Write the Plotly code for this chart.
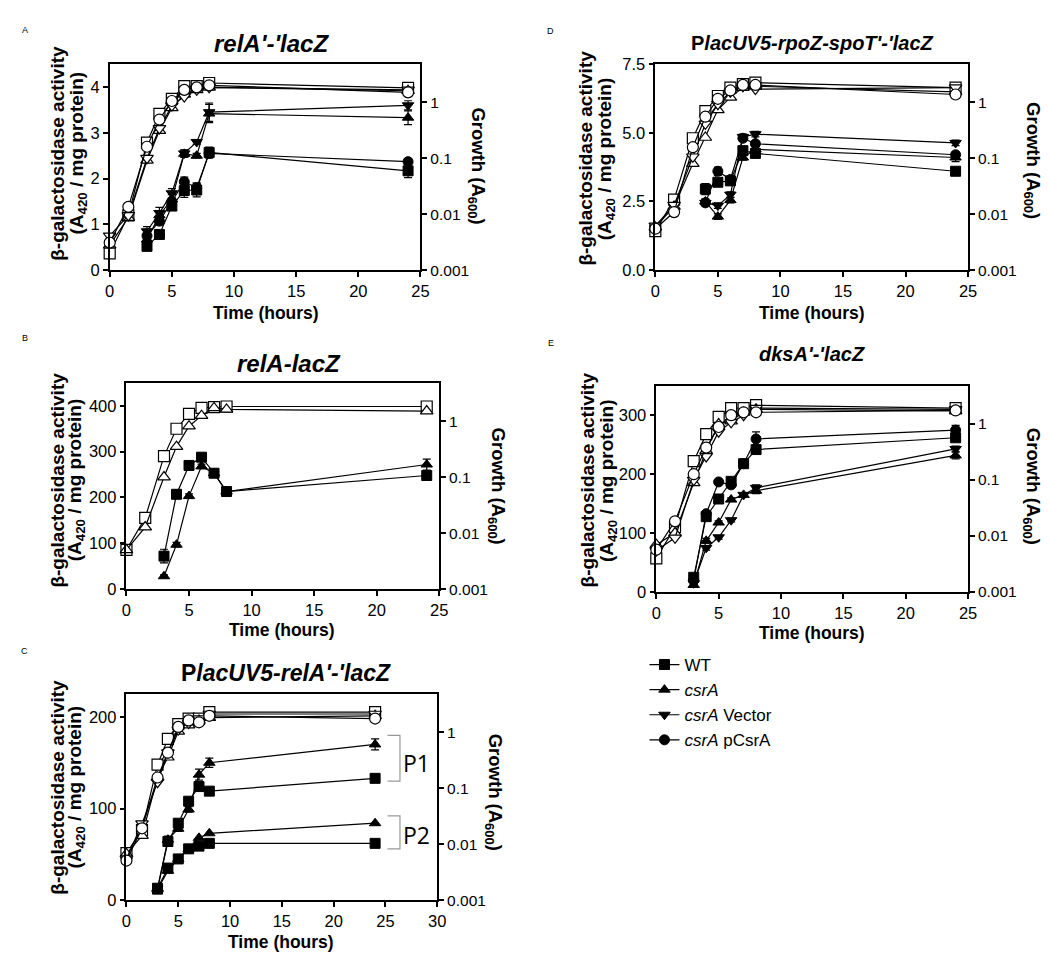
import plotly.graph_objects as go

W, H = 1050, 961

# ---------------- data ----------------
t_full = [0, 1.5, 3, 4, 5, 6, 7, 8, 24]
t_late = [3, 4, 5, 6, 7, 8, 24]
t_D = [4, 5, 6, 7, 8, 24]

# Panel A  relA'-'lacZ
A_gal_WT = [0.52, 0.78, 1.40, 1.74, 1.75, 2.57, 2.17]
A_gal_csrA = [0.67, 1.20, 1.55, 2.54, 2.50, 3.42, 3.33]
A_gal_vec = [0.85, 1.25, 1.68, 2.55, 2.80, 3.45, 3.60]
A_gal_pC = [0.75, 1.07, 1.50, 1.93, 1.80, 2.55, 2.37]
A_err_WT = [0.05, 0.05, 0.08, 0.15, 0.15, 0.12, 0.15]
A_err_csrA = [0.10, 0.10, 0.10, 0.08, 0.05, 0.20, 0.15]
A_err_vec = [0.10, 0.12, 0.10, 0.08, 0.05, 0.20, 0.10]
A_err_pC = [0.05, 0.08, 0.05, 0.10, 0.10, 0.10, 0.05]
A_gr_WT = [0.0020, 0.0095, 0.19, 0.62, 1.15, 1.94, 1.94, 2.2, 1.8]
A_gr_csrA = [0.0028, 0.0087, 0.091, 0.31, 0.79, 1.38, 1.66, 1.84, 1.6]
A_gr_vec = [0.0041, 0.0095, 0.10, 0.34, 0.87, 1.26, 1.66, 1.84, 1.66]
A_gr_pC = [0.0031, 0.0135, 0.16, 0.49, 1.05, 1.66, 1.84, 2.0, 1.5]

# Panel B  relA-lacZ
B_gal_WT = [72, 207, 270, 288, 253, 213, 248]
B_gal_csrA = [28, 97, 203, 268, 253, 213, 272]
B_err_WT = [15, 5, 5, 5, 5, 5, 8]
B_err_csrA = [3, 5, 5, 5, 5, 5, 12]
B_gr_WT = [0.0050, 0.0187, 0.237, 0.73, 1.35, 1.72, 1.78, 1.82, 1.82]
B_gr_csrA = [0.0050, 0.0128, 0.10, 0.35, 0.81, 1.25, 1.72, 1.62, 1.51]

# Panel C  PlacUV5-relA'-'lacZ
C_P1_WT = [12, 64, 84, 108, 124, 119, 133]
C_P1_csrA = [13, 66, 78, 99, 137, 150, 170]
C_P2_WT = [13, 35, 45, 56, 59, 62, 62]
C_P2_csrA = [12, 32, 45, 56, 68, 73, 84]
C_err_P1_WT = [1, 3, 3, 2, 2, 2, 2]
C_err_P1_csrA = [1, 4, 3, 3, 6, 5, 6]
C_gr_WT = [0.0069, 0.0178, 0.263, 0.76, 1.39, 1.75, 1.75, 2.28, 2.28]
C_gr_csrA = [0.0067, 0.0142, 0.155, 0.356, 1.03, 1.34, 1.62, 1.82, 1.96]
C_gr_vec = [0.0055, 0.0232, 0.128, 0.43, 1.11, 1.45, 1.75, 2.11, 2.11]
C_gr_pC = [0.0051, 0.0192, 0.155, 0.43, 1.24, 1.62, 1.50, 1.96, 1.75]

# Panel D  PlacUV5-rpoZ-spoT'-'lacZ
D_gal_WT = [2.95, 3.20, 3.25, 4.35, 4.25, 3.60]
D_gal_csrA = [2.50, 1.95, 2.55, 4.10, 4.40, 4.10]
D_gal_vec = [2.45, 2.35, 2.75, 4.85, 4.95, 4.63]
D_gal_pC = [2.45, 3.60, 3.30, 4.80, 4.60, 4.20]
D_err_WT = [0.2, 0.1, 0.1, 0.1, 0.1, 0.05]
D_err_csrA = [0.1, 0.1, 0.1, 0.1, 0.1, 0.15]
D_err_vec = [0.1, 0.1, 0.1, 0.1, 0.1, 0.1]
D_err_pC = [0.1, 0.15, 0.1, 0.1, 0.1, 0.1]
D_gr_WT = [0.0050, 0.0182, 0.227, 0.69, 1.29, 1.82, 2.10, 2.23, 1.82]
D_gr_csrA = [0.0058, 0.0137, 0.080, 0.234, 0.73, 1.22, 1.82, 1.92, 1.53]
D_gr_vec = [0.0062, 0.0145, 0.106, 0.41, 0.92, 1.53, 1.92, 1.71, 1.82]
D_gr_pC = [0.0055, 0.0109, 0.157, 0.55, 1.15, 1.62, 2.03, 2.03, 1.37]

# Panel E  dksA'-'lacZ
E_gal_WT = [25, 128, 158, 188, 218, 242, 262]
E_gal_csrA = [12, 87, 118, 157, 165, 172, 232]
E_gal_vec = [15, 75, 93, 122, 165, 177, 243]
E_gal_pC = [20, 133, 187, 182, 218, 260, 275]
E_err_WT = [3, 5, 4, 4, 5, 5, 6]
E_err_csrA = [2, 4, 3, 3, 3, 5, 6]
E_err_vec = [2, 4, 3, 3, 3, 5, 5]
E_err_pC = [3, 4, 3, 4, 4, 12, 8]
E_gr_WT = [0.0040, 0.0144, 0.217, 0.66, 1.34, 1.92, 1.92, 2.17, 1.92]
E_gr_csrA = [0.0070, 0.0113, 0.089, 0.336, 1.0, 1.13, 1.62, 1.83, 1.71]
E_gr_vec = [0.0055, 0.0093, 0.100, 0.264, 0.73, 1.07, 1.44, 1.92, 1.83]
E_gr_pC = [0.0057, 0.0183, 0.127, 0.38, 0.885, 1.44, 1.62, 1.62, 1.75]

strain_names = ["WT", "<i>csrA</i>", "<i>csrA</i> Vector", "<i>csrA</i> pCsrA"]
symbols = ["square", "triangle-up", "triangle-down", "circle"]
msizes = [10, 10, 10, 10]

FONT = "Liberation Sans, Arial, sans-serif"

fig = go.Figure()


def add_gal(i, x, y, err, k, show=False):
    fig.add_trace(go.Scatter(
        x=x, y=y, mode="lines+markers", xaxis=f"x{i}", yaxis=f"y{2*i-1}",
        name=strain_names[k], showlegend=show, cliponaxis=False,
        line=dict(color="black", width=1.2),
        marker=dict(symbol=symbols[k], size=msizes[k], color="black",
                    line=dict(color="black", width=1)),
        error_y=dict(type="data", array=err, visible=err is not None,
                     color="black", thickness=1.2, width=4),
    ))


def add_gr(i, x, y, k):
    fig.add_trace(go.Scatter(
        x=x, y=y, mode="lines+markers", xaxis=f"x{i}", yaxis=f"y{2*i}",
        showlegend=False, cliponaxis=False,
        line=dict(color="black", width=1.2),
        marker=dict(symbol=symbols[k], size=msizes[k] + 1, color="white",
                    line=dict(color="black", width=1.2)),
    ))


# Panel A (1)
for k, (g, e) in enumerate([(A_gal_WT, A_err_WT), (A_gal_csrA, A_err_csrA),
                            (A_gal_vec, A_err_vec), (A_gal_pC, A_err_pC)]):
    add_gal(1, t_late, g, e, k, show=True)
for k, g in enumerate([A_gr_WT, A_gr_csrA, A_gr_vec, A_gr_pC]):
    add_gr(1, t_full, g, k)

# Panel B (2)
add_gal(2, t_late, B_gal_WT, B_err_WT, 0)
add_gal(2, t_late, B_gal_csrA, B_err_csrA, 1)
add_gr(2, t_full, B_gr_WT, 0)
add_gr(2, t_full, B_gr_csrA, 1)

# Panel C (3)
add_gal(3, t_late, C_P1_WT, C_err_P1_WT, 0)
add_gal(3, t_late, C_P1_csrA, C_err_P1_csrA, 1)
add_gal(3, t_late, C_P2_WT, None, 0)
add_gal(3, t_late, C_P2_csrA, None, 1)
for k, g in enumerate([C_gr_WT, C_gr_csrA, C_gr_vec, C_gr_pC]):
    add_gr(3, t_full, g, k)

# Panel D (4)
for k, (g, e) in enumerate([(D_gal_WT, D_err_WT), (D_gal_csrA, D_err_csrA),
                            (D_gal_vec, D_err_vec), (D_gal_pC, D_err_pC)]):
    add_gal(4, t_D, g, e, k)
for k, g in enumerate([D_gr_WT, D_gr_csrA, D_gr_vec, D_gr_pC]):
    add_gr(4, t_full, g, k)

# Panel E (5)
for k, (g, e) in enumerate([(E_gal_WT, E_err_WT), (E_gal_csrA, E_err_csrA),
                            (E_gal_vec, E_err_vec), (E_gal_pC, E_err_pC)]):
    add_gal(5, t_late, g, e, k)
for k, g in enumerate([E_gr_WT, E_gr_csrA, E_gr_vec, E_gr_pC]):
    add_gr(5, t_full, g, k)

# ---------------- layout ----------------
def xd(px):
    return px / W


def yd(py):
    return 1 - py / H


panels = [
    # (x0, x1, ytop, ybot, xmax, ymax, ytickvals, yticktext)
    (98, 413, 48, 258, 25, 4.5, [0, 1, 2, 3, 4], ["0", "1", "2", "3", "4"]),
    (115, 432, 373, 583, 25, 450, [0, 100, 200, 300, 400], ["0", "100", "200", "300", "400"]),
    (115, 430, 690, 900, 30, 225, [0, 100, 200], ["0", "100", "200"]),
    (651, 968, 48, 258, 25, 7.5, [0, 2.5, 5, 7.5], ["0.0", "2.5", "5.0", "7.5"]),
    (652, 968, 376, 586, 25, 350, [0, 100, 200, 300], ["0", "100", "200", "300"]),
]

tickfont = dict(family=FONT, size=16.5, color="black")
axcommon = dict(showline=True, linecolor="black", linewidth=1.5, ticks="outside",
                ticklen=5, tickwidth=1.5, tickcolor="black", showgrid=False,
                zeroline=False)

layout = {}
for i, (x0, x1, yt, yb, xmax, ymax, tv, tt) in enumerate(panels, start=1):
    layout[f"xaxis{i}"] = dict(domain=[xd(x0), xd(x1)], anchor=f"y{2*i-1}",
                               range=[0, xmax], tickvals=list(range(0, xmax + 1, 5)),
                               mirror=True, tickfont=tickfont, **axcommon)
    layout[f"yaxis{2*i-1}"] = dict(domain=[yd(yb), yd(yt)], anchor=f"x{i}",
                                   range=[0, ymax], tickvals=tv, ticktext=tt,
                                   tickfont=tickfont, **axcommon)
    layout[f"yaxis{2*i}"] = dict(overlaying=f"y{2*i-1}", anchor=f"x{i}", side="right",
                                 type="log", range=[-3, 0.68],
                                 tickvals=[0.001, 0.01, 0.1, 1],
                                 ticktext=["0.001", "0.01", "0.1", "1"],
                                 tickfont=dict(family=FONT, size=15.5, color="black"),
                                 **axcommon)

fig.update_layout(**layout)

annotations = []


def ann(text, px, py, size=15, bold=True, angle=0, anchor="center"):
    if bold:
        text = f"<b>{text}</b>"
    annotations.append(dict(text=text, x=xd(px), y=yd(py), xref="paper", yref="paper",
                            showarrow=False, textangle=angle, xanchor=anchor,
                            yanchor="middle",
                            font=dict(family=FONT, size=size, color="black")))


# panel letters
for lt, px, py in [("A", 12, 13), ("B", 12, 327), ("C", 12, 646), ("D", 545, 14), ("E", 545, 332)]:
    ann(lt, px, py, size=9, bold=False)

# titles
ann("<i>relA'-'lacZ</i>", 262, 27, size=24)
ann("<i>relA-lacZ</i>", 280, 353, size=24)
ann("P<i>lacUV5-relA'-'lacZ</i>", 277, 669, size=23)
ann("P<i>lacUV5-rpoZ-spoT'-'lacZ</i>", 810, 26, size=20)
ann("<i>dksA'-'lacZ</i>", 810, 343, size=20)

# left y titles (two lines)
line1 = "β-galactosidase activity"
line2 = "(A<sub>420</sub> / mg protein)"
for (px1, px2, py) in [(45, 66, 139), (45, 64, 472), (45, 64, 785), (580, 601, 144), (582, 603, 472)]:
    ann(line1, px1, py, size=19, angle=-90)
    ann(line2, px2, py, size=19, angle=-90)

# right y titles
for px, py in [(470, 152), (490, 478), (487, 790), (1033, 146), (1033, 478)]:
    ann("Growth (A<sub>600</sub>)", px, py, size=18.5, angle=90)

# x titles
for px, py in [(256, 302), (273, 625), (272, 943), (810, 302), (810, 628)]:
    ann("Time (hours)", px, py, size=17.5)

fig.update_layout(annotations=annotations)

# P1 / P2 brackets in panel C
shapes = [
    dict(type="path", xref="x3", yref="y5", path="M 25.2,180 L 26.4,180 L 26.4,130 L 25.2,130",
         line=dict(color="#999999", width=1.2)),
    dict(type="path", xref="x3", yref="y5", path="M 25.2,92 L 26.4,92 L 26.4,56 L 25.2,56",
         line=dict(color="#999999", width=1.2)),
]
fig.update_layout(shapes=shapes)
fig.add_annotation(text="P1", x=28.0, y=150, xref="x3", yref="y5", showarrow=False,
                   font=dict(family="Open Sans, Liberation Sans, sans-serif", size=23, color="black"))
fig.add_annotation(text="P2", x=28.0, y=71, xref="x3", yref="y5", showarrow=False,
                   font=dict(family="Open Sans, Liberation Sans, sans-serif", size=23, color="black"))

fig.update_layout(
    width=W, height=H, margin=dict(l=0, r=0, t=0, b=0),
    paper_bgcolor="white", plot_bgcolor="white",
    font=dict(family=FONT, color="black"),
    legend=dict(x=xd(640), y=yd(642), xanchor="left", yanchor="top",
                font=dict(family=FONT, size=17, color="black"),
                bgcolor="rgba(0,0,0,0)", tracegroupgap=0, itemwidth=30),
)

fig.write_html("out.html")
